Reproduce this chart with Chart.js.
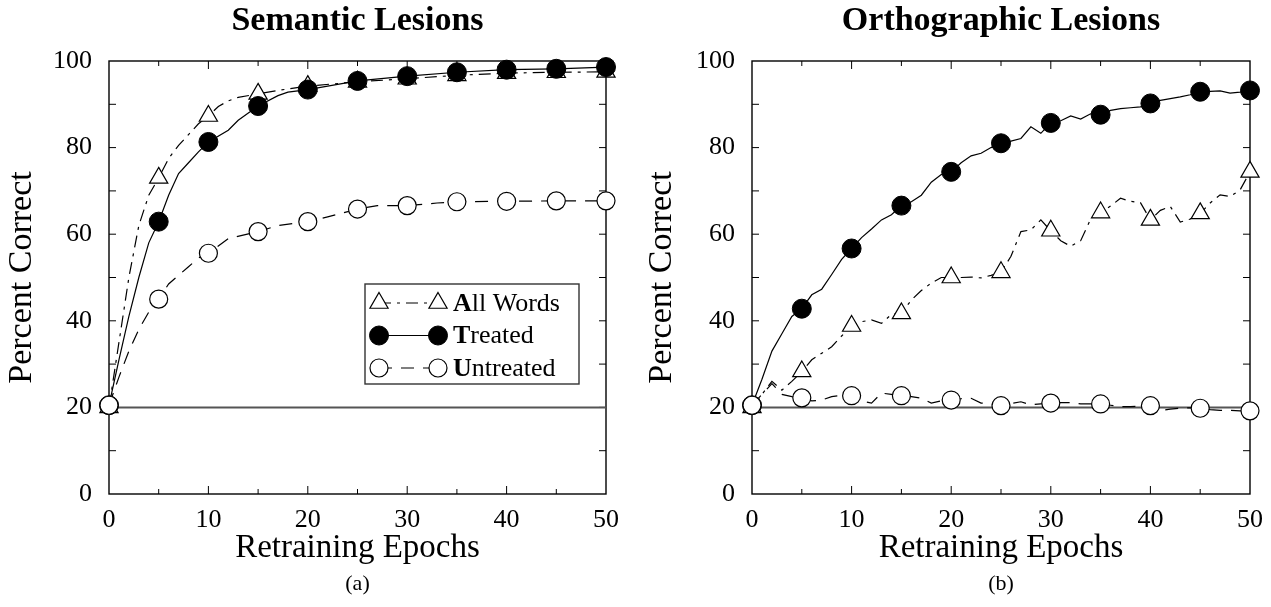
<!DOCTYPE html>
<html lang="en">
<head>
<meta charset="UTF-8"/>
<title>Semantic and Orthographic Lesions</title>
<script src="https://cdn.jsdelivr.net/npm/chart.js"></script>
<style>
  html, body { margin: 0; padding: 0; background: #fff; overflow: hidden; }
  .panel { position: absolute; top: 0; height: 607px; }
  #panelA { left: 0; width: 640px; }
  #panelB { left: 640px; width: 634px; }
</style>
</head>
<body>
<div class="panel" id="panelA"><canvas id="semanticChart"></canvas></div>
<div class="panel" id="panelB"><canvas id="orthoChart"></canvas></div>

<script>
// ---- Semantic lesions (a) ----
const semAllX = [0, 1, 2, 3, 4, 5, 6, 7, 8, 9, 10, 11, 12, 13, 15, 17, 20, 25, 30, 35, 40, 45, 50];
const semAllY = [20, 35, 50, 62, 69, 73, 77.5, 80.5, 83, 85.5, 87.3, 89.5, 90.8, 91.6, 92.4, 93.2, 94.2, 95.2, 95.9, 96.7, 97.2, 97.4, 97.5];

const semTreatedX = [0, 1, 2, 3, 4, 5, 6, 7, 8, 9, 10, 12, 13, 15, 17, 18, 20, 25, 30, 35, 40, 45, 50];
const semTreatedY = [20.5, 31, 41, 50, 58, 62.9, 69, 74, 76.5, 79, 81.3, 84, 86.3, 89.6, 92, 92.8, 93.4, 95.4, 96.5, 97.4, 98.0, 98.2, 98.6];

const semUntreatedX = [0, 1, 2, 3, 4, 5, 6, 7, 8, 9, 10, 12, 15, 17, 20, 22, 25, 27, 30, 33, 35, 40, 45, 50];
const semUntreatedY = [20.5, 27, 33, 38, 42, 45, 48.5, 50.5, 52.5, 54.5, 55.6, 59, 60.6, 62, 62.9, 64, 65.8, 66.6, 66.6, 67.2, 67.5, 67.6, 67.7, 67.7];

// ---- Orthographic lesions (b), one value per epoch ----
const orthoEpochs = [0, 1, 2, 3, 4, 5, 6, 7, 8, 9, 10, 11, 12, 13, 14, 15, 16, 17, 18, 19, 20,
  21, 22, 23, 24, 25, 26, 27, 28, 29, 30, 31, 32, 33, 34, 35, 36, 37, 38, 39, 40,
  41, 42, 43, 44, 45, 46, 47, 48, 49, 50];
const orthoAll = [20, 23, 26, 24, 26, 28.3, 31, 32.5, 34, 36.5, 38.8, 39.8, 40.2, 39.4, 41.5, 41.7, 44.8, 47, 48.7, 50, 50,
  50, 50.1, 49.9, 50.5, 51.2, 54.9, 60.6, 61, 63.3, 60.8, 58.5, 57.2, 58.5, 63.5, 65, 66.5, 68.3, 67.6, 67.3, 63.3,
  65.5, 66.4, 62.8, 63.5, 64.8, 67.2, 69.1, 68.7, 70.2, 74.4];
const orthoTreated = [20.5, 26.5, 33, 37, 41, 42.8, 46, 47.3, 50.7, 54.2, 56.7, 59.2, 61.2, 63.3, 64.5, 66.6, 67.5, 69, 72, 73.8, 74.4,
  76.5, 78.1, 78.7, 80, 81, 81.5, 82.1, 84.8, 83.3, 85.7, 86.2, 87.3, 86.6, 87.8, 87.6, 88.6, 89, 89.2, 89.4, 90.2,
  90.9, 91.3, 91.7, 92.2, 92.9, 93, 93.1, 92.6, 92.8, 93.2];
const orthoUntreated = [20.5, 23, 25.5, 23, 22.5, 22.2, 21.5, 21.7, 22.5, 22.8, 22.7, 21.5, 21, 23.3, 23, 22.7, 22.5, 22.1, 21, 21.5, 21.7,
  22, 22.1, 21, 20.8, 20.4, 20.9, 21.3, 20.6, 20.8, 21, 21.1, 21.1, 20.8, 20.8, 20.8, 20.5, 20.2, 20.2, 20.3, 20.4,
  19.3, 19.6, 19.8, 19.9, 19.8, 19.5, 19.3, 19.3, 19.2, 19.2];

const chanceLevel = 20;
const xTicks = [0, 10, 20, 30, 40, 50];
const yTicks = [0, 20, 40, 60, 80, 100];

const serif = "'Liberation Serif', 'Times New Roman', serif";

function pts(xs, ys) {
  return xs.map((x, i) => ({ x: x, y: ys[i] }));
}

// markers only every 5 epochs
function markerSize(r) {
  return ctx => (ctx.raw && ctx.raw.x % 5 === 0) ? r : 0;
}

const styles = {
  all: {
    label: 'All Words', borderColor: '#000', borderWidth: 1.2, borderDash: [12, 6, 3, 6],
    pointStyle: 'triangle', pointBackgroundColor: '#fff', pointBorderColor: '#000',
    pointBorderWidth: 1.2, pointRadius: markerSize(10.5), legendRadius: 10.5
  },
  treated: {
    label: 'Treated', borderColor: '#000', borderWidth: 1.2, borderDash: [],
    pointStyle: 'circle', pointBackgroundColor: '#000', pointBorderColor: '#000',
    pointBorderWidth: 1, pointRadius: markerSize(9.5), legendRadius: 9.5
  },
  untreated: {
    label: 'Untreated', borderColor: '#000', borderWidth: 1.2, borderDash: [13, 9],
    pointStyle: 'circle', pointBackgroundColor: '#fff', pointBorderColor: '#000',
    pointBorderWidth: 1.2, pointRadius: markerSize(9), legendRadius: 9
  }
};

function chanceSet() {
  return {
    label: 'chance', data: pts([0, 50], [chanceLevel, chanceLevel]),
    borderColor: '#555', borderWidth: 2, pointRadius: 0
  };
}

// frame with inward tick marks on all four sides
const framePlugin = {
  id: 'frame',
  beforeDatasetsDraw(chart) {
    const { ctx, chartArea: a, scales: { x, y } } = chart;
    ctx.save();
    ctx.strokeStyle = '#000';
    ctx.lineWidth = 1.4;
    ctx.strokeRect(a.left, a.top, a.right - a.left, a.bottom - a.top);
    ctx.lineWidth = 1;
    ctx.beginPath();
    for (let v = 5; v < 50; v += 5) {
      const px = x.getPixelForValue(v);
      const len = v % 10 === 0 ? 8 : 5;
      ctx.moveTo(px, a.bottom); ctx.lineTo(px, a.bottom - len);
      ctx.moveTo(px, a.top); ctx.lineTo(px, a.top + len);
    }
    for (let v = 10; v < 100; v += 10) {
      const py = y.getPixelForValue(v);
      ctx.moveTo(a.left, py); ctx.lineTo(a.left + 7, py);
      ctx.moveTo(a.right, py); ctx.lineTo(a.right - 7, py);
    }
    ctx.stroke();
    ctx.restore();
  }
};

// boxed legend: marker - line - marker, label with bold first letter
const boxLegend = {
  id: 'boxLegend',
  afterDraw(chart, args, opts) {
    if (!opts.show) return;
    const { ctx, chartArea: a } = chart;
    const left = a.left + 256, top = a.top + 223, w = 214, h = 100;
    ctx.save();
    ctx.fillStyle = '#fff';
    ctx.fillRect(left, top, w, h);
    ctx.strokeStyle = '#333';
    ctx.lineWidth = 1.4;
    ctx.strokeRect(left, top, w, h);
    const order = ['All Words', 'Treated', 'Untreated'];
    order.forEach((name, i) => {
      const ds = chart.data.datasets.find(d => d.label === name);
      const cy = top + 19 + i * 32.5;
      const x1 = left + 14, x2 = left + 73;
      ctx.strokeStyle = '#000';
      ctx.lineWidth = ds.borderWidth;
      ctx.setLineDash(ds.borderDash);
      ctx.beginPath(); ctx.moveTo(x1, cy); ctx.lineTo(x2, cy); ctx.stroke();
      ctx.setLineDash([]);
      [x1, x2].forEach(px => {
        ctx.fillStyle = ds.pointBackgroundColor;
        ctx.strokeStyle = ds.pointBorderColor;
        ctx.lineWidth = ds.pointBorderWidth;
        Chart.helpers.drawPoint(ctx, { pointStyle: ds.pointStyle, radius: ds.legendRadius, rotation: 0, borderWidth: ds.pointBorderWidth }, px, cy);
      });
      ctx.fillStyle = '#000';
      ctx.textBaseline = 'middle';
      ctx.textAlign = 'left';
      ctx.font = 'bold 26px ' + serif;
      const first = name[0];
      ctx.fillText(first, left + 88, cy + 1);
      const fw = ctx.measureText(first).width;
      ctx.font = '26px ' + serif;
      ctx.fillText(name.slice(1), left + 88 + fw, cy + 1);
    });
    ctx.restore();
  }
};

function makeChart(id, title, caption, sets, yAxisWidth, rightPad, showLegend) {
  return new Chart(document.getElementById(id), {
    type: 'line',
    data: { datasets: sets },
    options: {
      responsive: true,
      maintainAspectRatio: false,
      animation: false,
      events: [],
      layout: { padding: { left: 0, right: rightPad, top: 0, bottom: 0 } },
      elements: { line: { tension: 0, fill: false } },
      datasets: { line: { clip: false } },
      scales: {
        x: {
          type: 'linear', min: 0, max: 50,
          grid: { display: false, drawTicks: false },
          border: { display: false },
          afterBuildTicks: s => { s.ticks = xTicks.map(v => ({ value: v })); },
          ticks: { color: '#000', font: { family: serif, size: 26 }, padding: 11, maxRotation: 0 },
          title: { display: true, text: 'Retraining Epochs', color: '#000', font: { family: serif, size: 33 }, padding: { top: 0, bottom: 2 } },
          afterFit: s => { s.height = 76.6; }
        },
        y: {
          min: 0, max: 100,
          grid: { display: false, drawTicks: false },
          border: { display: false },
          afterBuildTicks: s => { s.ticks = yTicks.map(v => ({ value: v })); },
          ticks: { color: '#000', font: { family: serif, size: 26 }, padding: 17 },
          title: { display: true, text: 'Percent Correct', color: '#000', font: { family: serif, size: 34 }, padding: { top: 2, bottom: 0 } },
          afterFit: s => { s.width = yAxisWidth; }
        }
      },
      plugins: {
        legend: { display: false },
        tooltip: { enabled: false },
        title: { display: true, text: title, fullSize: false, color: '#000', font: { family: serif, size: 34, weight: 'bold' }, padding: { top: 1, bottom: 19.2 } },
        subtitle: { display: true, position: 'bottom', text: caption, fullSize: false, color: '#000', font: { family: serif, size: 22 }, padding: { top: 0, bottom: 10 } },
        boxLegend: { show: showLegend }
      }
    },
    plugins: [framePlugin, boxLegend]
  });
}

// first dataset is drawn on top
makeChart('semanticChart', 'Semantic Lesions', '(a)', [
  Object.assign({ data: pts(semUntreatedX, semUntreatedY) }, styles.untreated),
  Object.assign({ data: pts(semTreatedX, semTreatedY) }, styles.treated),
  Object.assign({ data: pts(semAllX, semAllY) }, styles.all),
  chanceSet()
], 109, 34, true);

makeChart('orthoChart', 'Orthographic Lesions', '(b)', [
  Object.assign({ data: pts(orthoEpochs, orthoUntreated) }, styles.untreated),
  Object.assign({ data: pts(orthoEpochs, orthoTreated) }, styles.treated),
  Object.assign({ data: pts(orthoEpochs, orthoAll) }, styles.all),
  chanceSet()
], 112, 24, false);
</script>
</body>
</html>
